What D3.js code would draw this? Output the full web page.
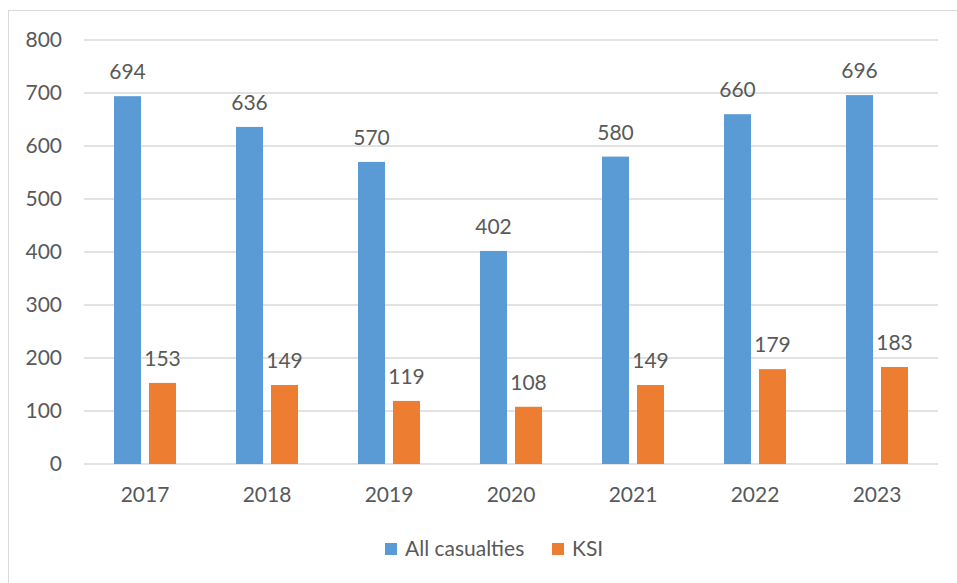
<!DOCTYPE html>
<html>
<head>
<meta charset="utf-8">
<script src="https://cdn.jsdelivr.net/npm/d3@7"></script>
<style>
  html, body { margin: 0; padding: 0; background: #fff; }
  svg { display: block; }
  text { font-family: Lato, "Open Sans", sans-serif; fill: #595959; }
</style>
</head>
<body>
<svg id="chart" width="957" height="583"></svg>
<script>
// Casualty counts by year
const years = ["2017", "2018", "2019", "2020", "2021", "2022", "2023"];
const allCasualties = [694, 636, 570, 402, 580, 660, 696];
const ksi = [153, 149, 119, 108, 149, 179, 183];
const seriesNames = ["All casualties", "KSI"];
const seriesColors = ["#5b9bd5", "#ed7d31"];
const yTicks = [0, 100, 200, 300, 400, 500, 600, 700, 800];

const FONT = 21;
const svg = d3.select("#chart");
const W = 957, H = 583;

// chart frame
svg.append("rect")
  .attr("x", 8.5).attr("y", 10.5)
  .attr("width", W + 20).attr("height", H + 20)
  .attr("fill", "#fff").attr("stroke", "#d9d9d9").attr("stroke-width", 1);

const plot = { left: 84, right: 938, top: 40, bottom: 464 };

const x = d3.scaleBand().domain(years).range([plot.left, plot.right]).padding(0);
const groupInset = x.bandwidth() * 30 / 122;
const xs = d3.scaleBand()
  .domain(seriesNames)
  .range([groupInset, x.bandwidth() - groupInset])
  .paddingInner(0.2286);
const y = d3.scaleLinear().domain([0, 800]).range([plot.bottom, plot.top]);

// gridlines
svg.append("g")
  .selectAll("line")
  .data(yTicks)
  .join("line")
  .attr("x1", plot.left).attr("x2", plot.right)
  .attr("y1", d => y(d)).attr("y2", d => y(d))
  .attr("stroke", "#d9d9d9").attr("stroke-width", 1.3);

// y axis labels
const yAxis = d3.axisLeft(y).tickValues(yTicks).tickSize(0).tickPadding(0);
const gy = svg.append("g").attr("transform", `translate(62,0)`).call(yAxis);
gy.select(".domain").remove();
gy.selectAll("text").attr("font-size", FONT).attr("fill", "#595959")
  .style("font-family", "Lato, 'Open Sans', sans-serif");

// x axis labels
const xAxis = d3.axisBottom(x).tickSize(0).tickPadding(0);
const gx = svg.append("g").attr("transform", `translate(0,${plot.bottom + 23})`).call(xAxis);
gx.select(".domain").remove();
gx.selectAll("text").attr("font-size", FONT).attr("fill", "#595959")
  .style("font-family", "Lato, 'Open Sans', sans-serif");

const rows = years.map((yr, i) => ({ year: yr, values: [allCasualties[i], ksi[i]] }));

const groups = svg.append("g").selectAll("g")
  .data(rows)
  .join("g")
  .attr("transform", d => `translate(${x(d.year)},0)`);

groups.selectAll("rect")
  .data(d => d.values.map((v, j) => ({ name: seriesNames[j], v, j })))
  .join("rect")
  .attr("x", d => xs(d.name))
  .attr("width", xs.bandwidth())
  .attr("y", d => y(d.v))
  .attr("height", d => y(0) - y(d.v))
  .attr("fill", d => seriesColors[d.j]);

groups.selectAll("text.val")
  .data(d => d.values.map((v, j) => ({ name: seriesNames[j], v, j })))
  .join("text")
  .attr("class", "val")
  .attr("x", d => xs(d.name) + xs.bandwidth() / 2)
  .attr("y", d => y(d.v) - 17)
  .attr("text-anchor", "middle")
  .attr("font-size", FONT)
  .text(d => d.v);

// legend
const legendItems = [
  { name: seriesNames[0], color: seriesColors[0], x: 385 },
  { name: seriesNames[1], color: seriesColors[1], x: 552 }
];
const lg = svg.append("g");
legendItems.forEach(it => {
  lg.append("rect").attr("x", it.x).attr("y", 543).attr("width", 12).attr("height", 12).attr("fill", it.color);
  lg.append("text").attr("x", it.x + 20).attr("y", 556).attr("font-size", FONT).text(it.name);
});
</script>
</body>
</html>
